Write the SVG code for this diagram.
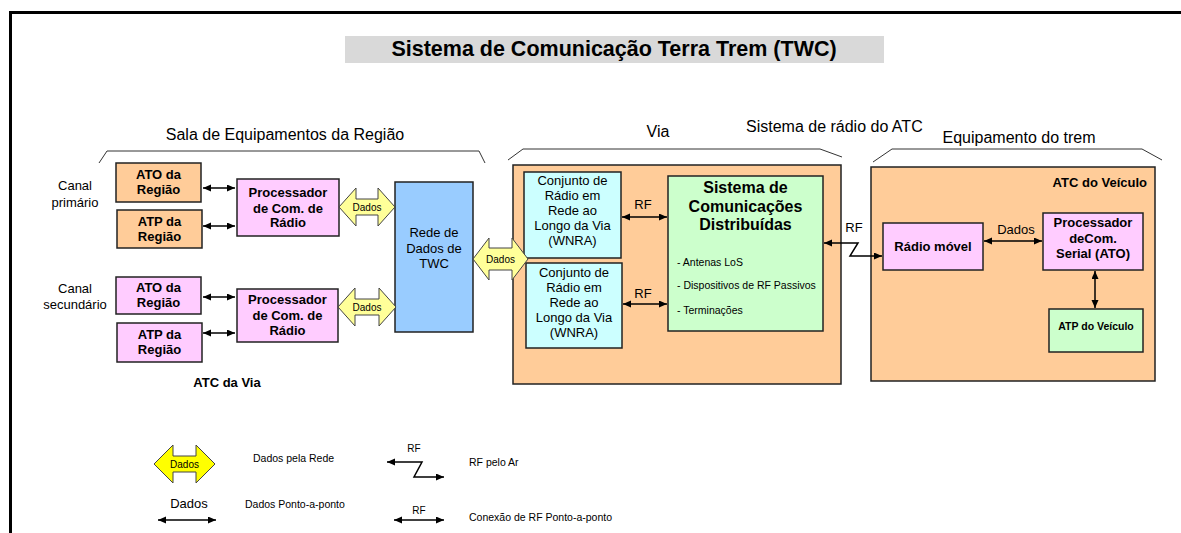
<svg xmlns="http://www.w3.org/2000/svg" width="1181" height="533" viewBox="0 0 1181 533">
<style>
text{font-family:"Liberation Sans",Arial,sans-serif;fill:#000}
.b{font-weight:bold}
.c{text-anchor:middle}
.box{stroke:#222;stroke-width:1.5}
.org{fill:#FFCC99}
.pnk{fill:#FFCCFF}
.blu{fill:#99CCFF}
.cya{fill:#CCFFFF}
.grn{fill:#CCFFCC}
.dad{fill:#FFFF99;stroke:#444;stroke-width:1}
.brk{fill:none;stroke:#333;stroke-width:1}
.ln{fill:none;stroke:#000;stroke-width:1.5}
</style>
<defs>
<marker id="ah" markerWidth="9" markerHeight="8" refX="8" refY="3.5" orient="auto-start-reverse" markerUnits="userSpaceOnUse">
<path d="M0,0 L8,3.5 L0,7 z" fill="#000"/>
</marker>
</defs>
<rect width="1181" height="533" fill="#fff"/>
<path d="M10.5,533 L10.5,12.5 L1181,12.5" fill="none" stroke="#000" stroke-width="3"/>

<g id="title">
<rect x="345" y="36" width="539" height="27" fill="#D9D9D9"/>
<text class="b c" x="614" y="55.5" font-size="21.5">Sistema de Comunicação Terra Trem (TWC)</text>
</g>

<g id="headers">
<text class="c" x="285" y="140" font-size="16">Sala de Equipamentos da Região</text>
<path class="brk" d="M99,163 L107,151 L479,151 L485,163"/>
<text class="c" x="658" y="137" font-size="16">Via</text>
<text x="746" y="132" font-size="16">Sistema de rádio do ATC</text>
<path class="brk" d="M508,160 L523,149 L820,149 L842,157"/>
<text class="c" x="1019" y="143" font-size="16">Equipamento do trem</text>
<path class="brk" d="M873,162 L892,149 L1142,149 L1162,160"/>
</g>

<g id="labels">
<text class="c" x="75" y="190" font-size="13">Canal</text>
<text class="c" x="75" y="207" font-size="13">primário</text>
<text class="c" x="75" y="293" font-size="13">Canal</text>
<text class="c" x="75" y="309" font-size="13">secundário</text>
<text class="b c" x="227" y="387" font-size="13">ATC da Via</text>
</g>

<g id="ato1"><rect class="box org" x="116" y="163" width="85" height="39"/>
<text class="b c" x="158.5" y="179" font-size="13">ATO da</text><text class="b c" x="158.5" y="194" font-size="13">Região</text></g>
<g id="atp1"><rect class="box org" x="117" y="210" width="85" height="38"/>
<text class="b c" x="159.5" y="226" font-size="13">ATP da</text><text class="b c" x="159.5" y="241" font-size="13">Região</text></g>
<g id="proc1"><rect class="box pnk" x="237" y="179" width="102" height="57"/>
<text class="b c" x="288" y="197" font-size="13">Processador</text><text class="b c" x="288" y="213" font-size="13">de Com. de</text><text class="b c" x="288" y="227" font-size="13">Rádio</text></g>

<g id="ato2"><rect class="box pnk" x="116" y="277" width="85" height="37"/>
<text class="b c" x="158.5" y="292" font-size="13">ATO da</text><text class="b c" x="158.5" y="307" font-size="13">Região</text></g>
<g id="atp2"><rect class="box pnk" x="117" y="323" width="85" height="39"/>
<text class="b c" x="159.5" y="339" font-size="13">ATP da</text><text class="b c" x="159.5" y="354" font-size="13">Região</text></g>
<g id="proc2"><rect class="box pnk" x="237" y="289" width="101" height="53"/>
<text class="b c" x="287.5" y="304" font-size="13">Processador</text><text class="b c" x="287.5" y="320" font-size="13">de Com. de</text><text class="b c" x="287.5" y="335" font-size="13">Rádio</text></g>

<g id="rede"><rect class="box blu" x="395" y="182" width="78" height="150"/>
<text class="c" x="434" y="237" font-size="13">Rede de</text><text class="c" x="434" y="253" font-size="13">Dados de</text><text class="c" x="434" y="268" font-size="13">TWC</text></g>

<g id="via">
<rect class="box org" x="513" y="165" width="328" height="219"/>
</g>
<g id="wnra1"><rect class="box cya" x="524" y="172" width="97" height="86"/>
<text class="c" x="572.5" y="185" font-size="13">Conjunto de</text><text class="c" x="572.5" y="200" font-size="13">Rádio em</text><text class="c" x="572.5" y="215" font-size="13">Rede ao</text><text class="c" x="572.5" y="230" font-size="13">Longo da Via</text><text class="c" x="572.5" y="245" font-size="13">(WNRA)</text></g>
<g id="wnra2"><rect class="box cya" x="526" y="263" width="96" height="85"/>
<text class="c" x="574" y="277" font-size="13">Conjunto de</text><text class="c" x="574" y="292" font-size="13">Rádio em</text><text class="c" x="574" y="307" font-size="13">Rede ao</text><text class="c" x="574" y="322" font-size="13">Longo da Via</text><text class="c" x="574" y="337" font-size="13">(WNRA)</text></g>
<g id="scd"><rect class="box grn" x="668" y="176" width="155" height="155"/>
<text class="b c" x="745.5" y="193" font-size="16">Sistema de</text><text class="b c" x="745.5" y="212" font-size="16">Comunicações</text><text class="b c" x="745.5" y="230" font-size="16">Distribuídas</text>
<text x="677" y="266" font-size="10.5">- Antenas LoS</text><text x="677" y="289" font-size="10.5">- Dispositivos de RF Passivos</text><text x="677" y="314" font-size="10.5">- Terminações</text></g>

<g id="trem"><rect class="box org" x="871" y="167" width="284" height="214"/>
<text class="b" x="1147" y="187" font-size="13" text-anchor="end">ATC do Veículo</text></g>
<g id="radio"><rect class="box pnk" x="883" y="223" width="100" height="47"/>
<text class="b c" x="933" y="251" font-size="13">Rádio móvel</text></g>
<g id="procser"><rect class="box pnk" x="1043" y="213" width="100" height="57"/>
<text class="b c" x="1093" y="227" font-size="13">Processador</text><text class="b c" x="1093" y="243" font-size="13">deCom.</text><text class="b c" x="1093" y="258" font-size="13">Serial (ATO)</text></g>
<g id="atpv"><rect class="box grn" x="1049" y="309" width="94" height="43"/>
<text class="b c" x="1096" y="330" font-size="10.5">ATP do Veículo</text></g>

<g id="connectors">
<line class="ln" x1="203" y1="188" x2="235" y2="188" marker-start="url(#ah)" marker-end="url(#ah)"/>
<line class="ln" x1="203" y1="226" x2="235" y2="226" marker-start="url(#ah)" marker-end="url(#ah)"/>
<line class="ln" x1="203" y1="297" x2="235" y2="297" marker-start="url(#ah)" marker-end="url(#ah)"/>
<line class="ln" x1="203" y1="333" x2="235" y2="333" marker-start="url(#ah)" marker-end="url(#ah)"/>
<polygon class="dad" points="339,207 356,188 356,199 378,199 378,188 395,207 378,226 378,215 356,215 356,226"/>
<text class="c" x="367" y="211" font-size="10">Dados</text>
<polygon class="dad" points="338,307 355,288 355,299 379,299 379,288 396,307 379,326 379,315 355,315 355,326"/>
<text class="c" x="367" y="311" font-size="10">Dados</text>
<polygon class="dad" points="473,259 489,238 489,248 512,248 512,238 528,259 512,280 512,270 489,270 489,280"/>
<text class="c" x="500.5" y="263" font-size="10">Dados</text>
<line class="ln" x1="622" y1="217" x2="667" y2="217" marker-start="url(#ah)" marker-end="url(#ah)"/>
<text class="c" x="643" y="209" font-size="13">RF</text>
<line class="ln" x1="623" y1="304" x2="667" y2="304" marker-start="url(#ah)" marker-end="url(#ah)"/>
<text class="c" x="643" y="298" font-size="13">RF</text>
<polyline class="ln" points="824,243 858,243 850,256 882,256" marker-start="url(#ah)" marker-end="url(#ah)" stroke-width="1.2"/>
<text class="c" x="854" y="232" font-size="13">RF</text>
<line class="ln" x1="984" y1="241" x2="1042" y2="241" marker-start="url(#ah)" marker-end="url(#ah)"/>
<text class="c" x="1016" y="234" font-size="13">Dados</text>
<line class="ln" x1="1095" y1="271" x2="1095" y2="308" marker-start="url(#ah)" marker-end="url(#ah)"/>
</g>

<g id="legend">
<polygon points="154,464 173,445 173,456 196,456 196,445 215,464 196,483 196,472 173,472 173,483" fill="#FFFF00" stroke="#444" stroke-width="1"/>
<text class="c" x="184.5" y="468" font-size="10">Dados</text>
<text x="253" y="462" font-size="10.5">Dados pela Rede</text>
<polyline class="ln" points="387,462 422,462 414,477 444,477" marker-start="url(#ah)" marker-end="url(#ah)" stroke-width="1.2"/>
<text class="c" x="414" y="452" font-size="10">RF</text>
<text x="469" y="466" font-size="10.5">RF pelo Ar</text>
<text class="c" x="189" y="508" font-size="13">Dados</text>
<line class="ln" x1="158" y1="520" x2="216" y2="520" marker-start="url(#ah)" marker-end="url(#ah)"/>
<text x="245" y="508" font-size="10.5">Dados Ponto-a-ponto</text>
<text class="c" x="419" y="514" font-size="10">RF</text>
<line class="ln" x1="394" y1="520" x2="444" y2="520" marker-start="url(#ah)" marker-end="url(#ah)"/>
<text x="469" y="521" font-size="10.5">Conexão de RF Ponto-a-ponto</text>
</g>
</svg>
